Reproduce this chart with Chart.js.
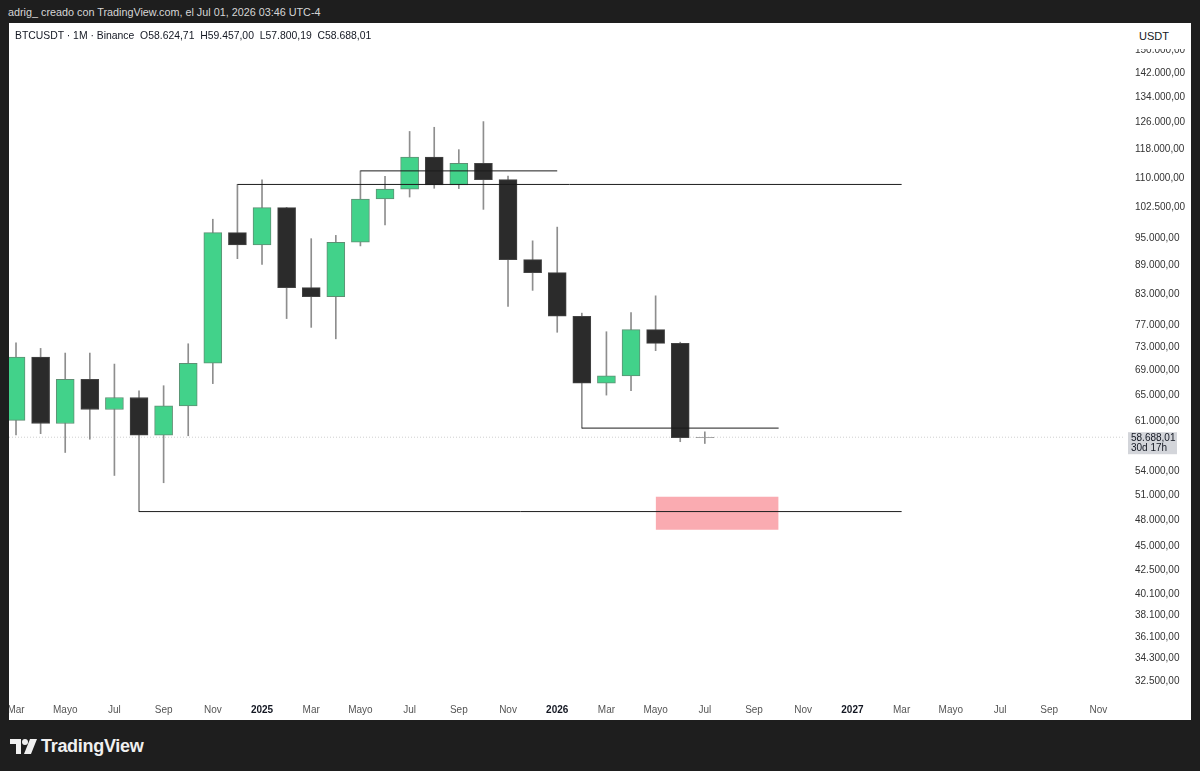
<!DOCTYPE html>
<html>
<head>
<meta charset="utf-8">
<script src="https://cdn.jsdelivr.net/npm/chart.js@4.4.1/dist/chart.umd.min.js"></script>
<style>
  body { margin: 0; width: 1200px; height: 771px; background: #1e1e1e; overflow: hidden; font-family: "Liberation Sans", Arial, sans-serif; }
  #credit { position: absolute; left: 8px; top: 6px; font-size: 10.8px; color: #d6d6d6; }
  #panel { position: absolute; left: 9px; top: 23px; width: 1182px; height: 697px; background: #fff; }
  #legend { position: absolute; left: 6px; top: 7px; font-size: 10.4px; color: #131722; white-space: pre; z-index: 2; }
  #unit { position: absolute; left: 1117px; top: 0; width: 65px; height: 26px; background: #fff; font-size: 11px; color: #131722; z-index: 2; }
  #unit span { position: absolute; left: 13px; top: 7px; }
  #logo { position: absolute; left: 10px; top: 736px; color: #f0f0f0; font-size: 18px; font-weight: bold; letter-spacing: -0.3px; }
  #logo svg { vertical-align: -2px; margin-right: 4px; }
</style>
</head>
<body>
<div id="credit">adrig_ creado con TradingView.com, el Jul 01, 2026 03:46 UTC-4</div>
<div id="panel">
  <div id="legend">BTCUSDT · 1M · Binance  O58.624,71  H59.457,00  L57.800,19  C58.688,01</div>
  <div id="unit"><span>USDT</span></div>
  <canvas id="chart" width="1182" height="697"></canvas>
</div>
<div id="logo"><svg width="27" height="15" viewBox="0 0 27 15"><path d="M0 0h11v15h-5v-10h-6z" fill="#f0f0f0"/><circle cx="15" cy="3" r="3" fill="#f0f0f0"/><path d="M20 0h7l-6 15h-7z" fill="#f0f0f0"/></svg>TradingView</div>

<script>
// Monthly candles, Mar 2024 .. Jul 2026
const months = ["2024-03","2024-04","2024-05","2024-06","2024-07","2024-08","2024-09","2024-10","2024-11","2024-12",
  "2025-01","2025-02","2025-03","2025-04","2025-05","2025-06","2025-07","2025-08","2025-09","2025-10","2025-11","2025-12",
  "2026-01","2026-02","2026-03","2026-04","2026-05","2026-06","2026-07"];
const opens  = [61131, 71280, 60672, 67540, 62772, 64628, 58974, 63328, 70215, 96408,
  93576, 102430, 84350, 82550, 94172, 104592, 107135, 115764, 108246, 114049, 109608, 90300,
  87500, 78700, 66900, 68100, 76200, 73700, 58624.71];
const highs  = [73777, 72798, 71979, 71980, 70080, 65660, 66498, 73620, 99588, 108353,
  109588, 102500, 95000, 95758, 111980, 110530, 123218, 124474, 117900, 126200, 110600, 94500,
  97700, 79300, 75800, 79400, 82700, 73900, 59457];
const lows   = [59005, 59192, 56553, 58402, 53486, 49000, 52550, 58895, 66835, 90500,
  89257, 78259, 76606, 74508, 93346, 98200, 105100, 107350, 107270, 102000, 80600, 83800,
  75700, 60000, 65000, 65700, 72400, 58050, 57800.19];
const closes = [71280, 60672, 67540, 62772, 64628, 58974, 63328, 70215, 96408, 93576,
  102430, 84350, 82550, 94172, 104592, 107135, 115764, 108246, 114049, 109608, 90300, 87500,
  78700, 66900, 68100, 76200, 73700, 58624.71, 58688.01];

// Horizontal levels drawn on the chart: [fromMonth, toMonth, price]
const levels = [
  ["2024-12", "2027-03", 108353],
  ["2025-05", "2026-01", 111980],
  ["2026-02", "2026-10", 60000],
  ["2024-08", "2027-03", 49000],
];
// Target zone: [fromMonth, toMonth, top, bottom]
const zone = ["2026-05", "2026-10", 50800, 46900];

// Axis labels
const yTicks = [150000, 142000, 134000, 126000, 118000, 110000, 102500, 95000, 89000, 83000, 77000, 73000,
  69000, 65000, 61000, 54000, 51000, 48000, 45000, 42500, 40100, 38100, 36100, 34300, 32500];
const xTickLabels = ["Mar","Mayo","Jul","Sep","Nov","2025","Mar","Mayo","Jul","Sep","Nov","2026",
  "Mar","Mayo","Jul","Sep","Nov","2027","Mar","Mayo","Jul","Sep","Nov"];

const GREEN = "#42d28a";
const DARK = "#2b2b2b";

// month index relative to Mar 2024
function mIdx(s) {
  const [y, m] = s.split("-").map(Number);
  return (y - 2024) * 12 + (m - 3);
}

function fmt(v) {
  const s = Math.round(v).toString().replace(/\B(?=(\d{3})+(?!\d))/g, ".");
  return s + ",00";
}
function fmt2(v) {
  const [i, d] = v.toFixed(2).split(".");
  return i.replace(/\B(?=(\d{3})+(?!\d))/g, ".") + "," + d;
}

const last = months.length - 1;
const bodyColors = closes.map((c, i) => i === last ? "#9a9a9a" : (c >= opens[i] ? GREEN : DARK));
const borderColors = closes.map((c, i) => i === last ? "#9a9a9a" : (c >= opens[i] ? "#5f8f74" : "#444"));

const wicks = months.map((m, i) => ({ x: mIdx(m), y: [lows[i], highs[i]] }));
const bodies = months.map((m, i) => ({ x: mIdx(m), y: [Math.min(opens[i], closes[i]), Math.max(opens[i], closes[i])] }));

const xMin = -0.285, xMax = 45.08;

const datasets = [];
levels.forEach(l => {
  datasets.push({
    type: "line",
    data: [{ x: mIdx(l[0]), y: l[2] }, { x: mIdx(l[1]), y: l[2] }],
    borderColor: "#1c1c1c", borderWidth: 1, pointRadius: 0, order: 0,
  });
});
datasets.push({
  type: "line",
  data: [{ x: xMin, y: closes[last] }, { x: xMax, y: closes[last] }],
  borderColor: "#cfcfcf", borderWidth: 1, borderDash: [1, 2], pointRadius: 0, order: 4,
});
datasets.push({
  type: "line",
  data: [{ x: mIdx(zone[0]), y: zone[2] }, { x: mIdx(zone[1]), y: zone[2] }],
  borderWidth: 0, pointRadius: 0, order: 5,
  fill: { value: zone[3] }, backgroundColor: "rgba(242, 54, 69, 0.42)",
});
datasets.push({
  type: "bar", data: bodies, backgroundColor: bodyColors, borderColor: borderColors,
  borderWidth: 1, borderSkipped: false, barThickness: 18, grouped: false, order: 1,
});
datasets.push({
  type: "bar", data: wicks, backgroundColor: "#8e8e8e",
  barThickness: 1, grouped: false, order: 2,
});

// price tag on the right axis
const priceTag = {
  id: "priceTag",
  afterDraw(chart) {
    const ctx = chart.ctx;
    const y = chart.scales.y.getPixelForValue(closes[last]);
    const x = chart.chartArea.right + 3;
    ctx.save();
    ctx.fillStyle = "#d3d5da";
    ctx.fillRect(x, y - 5, 49, 22);
    ctx.fillStyle = "#131722";
    ctx.font = "10px 'Liberation Sans', Arial";
    ctx.textBaseline = "middle";
    ctx.fillText(fmt2(closes[last]), x + 3, y + 1);
    ctx.fillText("30d 17h", x + 3, y + 11);
    ctx.restore();
  }
};

// no extra room for edge labels
function noPad(axis) {
  axis.paddingLeft = 0; axis.paddingRight = 0;
  axis.paddingTop = 0; axis.paddingBottom = 0;
}

new Chart(document.getElementById("chart"), {
  type: "bar",
  data: { datasets },
  plugins: [priceTag],
  options: {
    responsive: false,
    animation: false,
    devicePixelRatio: 1,
    layout: { padding: 0 },
    plugins: { legend: { display: false }, tooltip: { enabled: false } },
    scales: {
      x: {
        type: "linear", min: xMin, max: xMax, offset: false,
        grid: { display: false, drawTicks: false }, border: { display: false },
        afterBuildTicks: axis => { axis.ticks = xTickLabels.map((t, i) => ({ value: i * 2 })); },
        afterFit: axis => { axis.height = 23; noPad(axis); },
        ticks: {
          autoSkip: false, maxRotation: 0, padding: 7,
          callback: (v, i) => xTickLabels[i],
          color: ctx => /^\d{4}$/.test(xTickLabels[ctx.index]) ? "#131722" : "#555",
          font: ctx => ({ size: 10, weight: /^\d{4}$/.test(xTickLabels[ctx.index]) ? "bold" : "normal" }),
        },
      },
      y: {
        type: "logarithmic", position: "right", min: 31250, max: 160300,
        grid: { display: false, drawTicks: false }, border: { display: false },
        afterBuildTicks: axis => { axis.ticks = yTicks.map(v => ({ value: v })); },
        afterFit: axis => { axis.width = 66; noPad(axis); },
        ticks: { padding: 10, color: "#333", font: { size: 10 }, callback: v => fmt(v) },
      },
    },
  },
});
</script>
</body>
</html>
